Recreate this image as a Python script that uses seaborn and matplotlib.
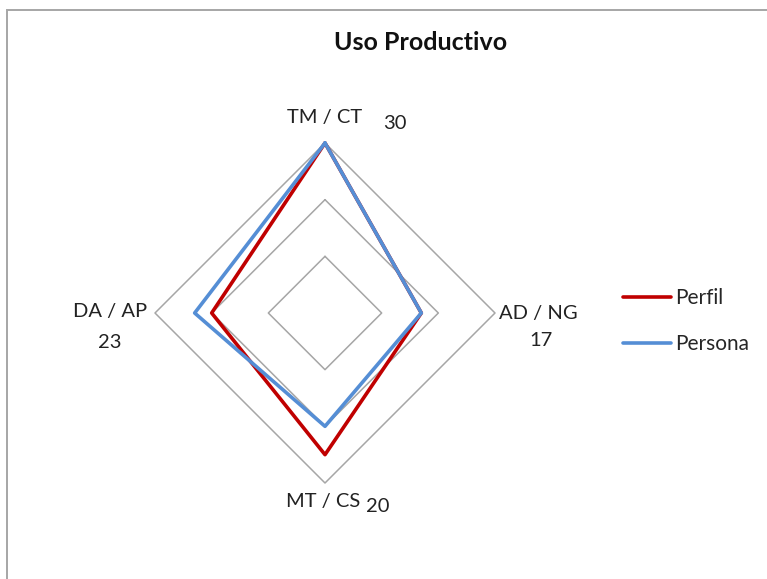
import numpy as np
import pandas as pd
import matplotlib.pyplot as plt
import matplotlib.patches as mpatches
import seaborn as sns

# data
categories = ["TM / CT", "AD / NG", "MT / CS", "DA / AP"]
cat_values = ["30", "17", "20", "23"]
perfil = [30, 17, 25, 20]
persona = [30, 17, 20, 23]
rings = [10, 20, 30]

sns.set_theme(style="white")
plt.rcParams['font.family'] = ["Lato", "DejaVu Sans"]

fig = plt.figure(figsize=(7.67, 5.79), dpi=100)

# axes covers whole figure, centre of radar at pixel (325, 313), 30 units = 170 px
scale = 30 / 170
ax = fig.add_axes([0, 0, 1, 1])
ax.set_xlim(-325 * scale, (767 - 325) * scale)
ax.set_ylim(-(579 - 313) * scale, 313 * scale)
ax.axis("off")

angles = np.pi / 2 - np.arange(len(categories)) * 2 * np.pi / len(categories)


def to_xy(vals):
    vals = list(vals) + [vals[0]]
    a = list(angles) + [angles[0]]
    return np.array(vals) * np.cos(a), np.array(vals) * np.sin(a)


# grid diamonds
for r in rings:
    gx, gy = to_xy([r] * len(categories))
    ax.plot(gx, gy, color="#a6a6a6", lw=1.1, zorder=1)

rows = []
for name, vals in [("Perfil", perfil), ("Persona", persona)]:
    x, y = to_xy(vals)
    for i in range(len(x)):
        rows.append({"x": x[i], "y": y[i], "serie": name, "order": i})
df = pd.DataFrame(rows)

sns.lineplot(data=df, x="x", y="y", hue="serie", units="serie", estimator=None,
             sort=False, palette={"Perfil": "#c00000", "Persona": "#558ed5"},
             lw=2.6, ax=ax, zorder=3)

ax.legend(loc="upper left", bbox_to_anchor=(623 / 767, 1 - 288 / 579),
          bbox_transform=fig.transFigure, frameon=False, fontsize=15,
          handlelength=2.3, handletextpad=0.2, labelspacing=1.25,
          borderaxespad=0, borderpad=0)

# category labels
lab_pos = [(325, 117, "center"), (538, 313, "center"), (323, 502, "center"), (110, 312, "center")]
val_pos = [(395, 124), (541, 341), (378, 507), (110, 342)]
for cat, v, (px, py, ha), (vx, vy) in zip(categories, cat_values, lab_pos, val_pos):
    fig.text(px / 767, 1 - py / 579, cat, ha=ha, va="center", fontsize=14.5, color="#222222")
    fig.text(vx / 767, 1 - vy / 579, v, ha="center", va="center", fontsize=14.5, color="#222222")

fig.text(421 / 767, 1 - 42 / 579, "Uso Productivo", ha="center", va="center",
         fontsize=18, fontweight="bold", color="#111111")

# outer frame
fig.patches.append(mpatches.Rectangle((7 / 767, -0.1), 1.1, 1 - 10 / 579 + 0.1,
                                      transform=fig.transFigure, fill=False,
                                      edgecolor="#a6a6a6", lw=1.4))

fig.savefig("out.png", dpi=100)
